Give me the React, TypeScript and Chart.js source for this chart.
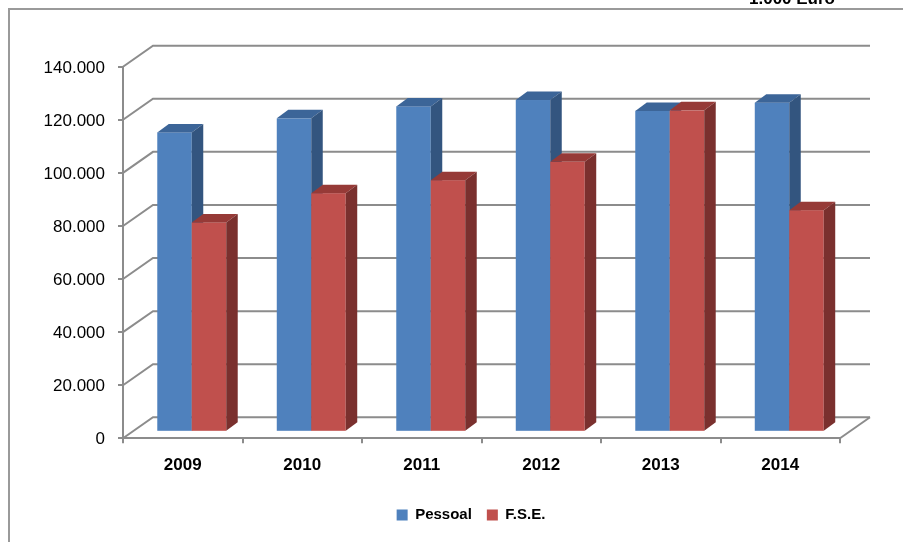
import React, { useEffect, useRef } from "react";
import { Chart, registerables } from "chart.js";

Chart.register(...registerables);

// ---- data ----
const categories = ["2009", "2010", "2011", "2012", "2013", "2014"];
const pessoal = [112800, 118100, 122600, 125000, 120900, 124000];
const fse = [78900, 89900, 94800, 101700, 121100, 83500];
const seriesNames = ["Pessoal", "F.S.E."];
const yMin = 0;
const yMax = 140000;
const yStep = 20000;
const unitLabel = "1.000 Euro";

// ---- style ----
const FONT = "'Liberation Sans', Arial, sans-serif";
const GRID = "#8c8c8c";
const FRONT = ["#4F81BD", "#C0504D"];
const TOP = ["#3C6598", "#963A37"];
const SIDE = ["#33557F", "#7A302E"];

const FLOOR_DX = 30;
const FLOOR_DY = -21;
const BAR_DX = 9;
const BAR_DY = -6.5;
const DEPTH_DX = 11.5;
const DEPTH_DY = -8.5;
const LEGEND_SHIFT = 31;

const fmt = (v: number) =>
  String(Math.round(v)).replace(/\B(?=(\d{3})+(?!\d))/g, ".");

const plugin3d = {
  id: "bars3d",
  afterLayout(chart: any) {
    const lg = chart.legend;
    if (lg) {
      lg.left += LEGEND_SHIFT;
      lg.right += LEGEND_SHIFT;
    }
  },
  beforeDraw(chart: any) {
    const { ctx } = chart;
    ctx.save();
    ctx.fillStyle = "#ffffff";
    ctx.fillRect(0, 0, chart.width, chart.height);
    // frame
    ctx.strokeStyle = "#9a9a9a";
    ctx.lineWidth = 2;
    ctx.beginPath();
    ctx.moveTo(9, chart.height);
    ctx.lineTo(9, 9);
    ctx.lineTo(chart.width, 9);
    ctx.stroke();
    // unit label
    ctx.fillStyle = "#000";
    ctx.font = `bold 17px ${FONT}`;
    ctx.textAlign = "right";
    ctx.textBaseline = "alphabetic";
    ctx.fillText(unitLabel, 835, 4);
    ctx.restore();
  },
  beforeDatasetsDraw(chart: any) {
    const { ctx, chartArea: ca, scales } = chart;
    const y = scales.y;
    ctx.save();
    ctx.strokeStyle = GRID;
    ctx.lineWidth = 2;
    y.ticks.forEach((t: any) => {
      const py = y.getPixelForValue(t.value);
      ctx.beginPath();
      ctx.moveTo(ca.left, py);
      ctx.lineTo(ca.left + FLOOR_DX, py + FLOOR_DY);
      ctx.lineTo(ca.right + FLOOR_DX, py + FLOOR_DY);
      ctx.stroke();
    });
    const by = y.getPixelForValue(0);
    ctx.beginPath();
    ctx.moveTo(ca.right, by);
    ctx.lineTo(ca.right + FLOOR_DX, by + FLOOR_DY);
    ctx.stroke();

    const n = chart.data.labels.length;
    const nd = chart.data.datasets.length;
    for (let i = 0; i < n; i++) {
      for (let d = 0; d < nd; d++) {
        const el = chart.getDatasetMeta(d).data[i];
        const p = el.getProps(["x", "y", "base", "width"], true);
        const L = p.x - p.width / 2 + BAR_DX;
        const R = p.x + p.width / 2 + BAR_DX;
        const T = p.y + BAR_DY;
        const B = p.base + BAR_DY;
        // front
        ctx.fillStyle = FRONT[d];
        ctx.fillRect(L, T, R - L, B - T);
        // top
        ctx.fillStyle = TOP[d];
        ctx.beginPath();
        ctx.moveTo(L, T);
        ctx.lineTo(R, T);
        ctx.lineTo(R + DEPTH_DX, T + DEPTH_DY);
        ctx.lineTo(L + DEPTH_DX, T + DEPTH_DY);
        ctx.closePath();
        ctx.fill();
        // side
        ctx.fillStyle = SIDE[d];
        ctx.beginPath();
        ctx.moveTo(R, T);
        ctx.lineTo(R + DEPTH_DX, T + DEPTH_DY);
        ctx.lineTo(R + DEPTH_DX, B + DEPTH_DY);
        ctx.lineTo(R, B);
        ctx.closePath();
        ctx.fill();
      }
    }
    ctx.restore();
    return false;
  },
};

export default function App() {
  const ref = useRef<HTMLCanvasElement>(null);
  useEffect(() => {
    if (!ref.current) return;
    const chart = new Chart(ref.current, {
      type: "bar",
      data: {
        labels: categories,
        datasets: [
          {
            label: seriesNames[0],
            data: pessoal,
            backgroundColor: FRONT[0],
            borderWidth: 0,
            categoryPercentage: 0.577,
            barPercentage: 1,
          },
          {
            label: seriesNames[1],
            data: fse,
            backgroundColor: FRONT[1],
            borderWidth: 0,
            categoryPercentage: 0.577,
            barPercentage: 1,
          },
        ],
      },
      options: {
        responsive: false,
        animation: false,
        layout: { padding: { left: 40, right: 63, top: 66.7, bottom: 9.5 } },
        plugins: {
          legend: {
            position: "bottom",
            labels: {
              font: { family: FONT, size: 15, weight: "bold" },
              color: "#000",
              boxWidth: 11,
              boxHeight: 11,
              padding: 15,
            },
          },
          tooltip: { enabled: false },
          title: { display: false },
        },
        scales: {
          x: {
            grid: {
              drawOnChartArea: false,
              drawTicks: true,
              tickLength: 5,
              color: GRID,
              lineWidth: 2,
              offset: true,
            },
            border: { display: true, color: GRID, width: 2 },
            ticks: {
              font: { family: FONT, size: 17, weight: "bold" },
              color: "#000",
              padding: 12,
              maxRotation: 0,
            },
            afterFit: (s: any) => {
              s.height = 54.2;
            },
          },
          y: {
            min: yMin,
            max: yMax,
            ticks: {
              stepSize: yStep,
              callback: (v: any) => fmt(Number(v)),
              font: { family: FONT, size: 17 },
              color: "#000",
              padding: 13,
              labelOffset: 1.5,
            },
            grid: {
              drawOnChartArea: false,
              drawTicks: true,
              tickLength: 5,
              color: GRID,
              lineWidth: 2,
            },
            border: { display: true, color: GRID, width: 2 },
            afterFit: (s: any) => {
              s.width = 83;
            },
          },
        },
      } as any,
      plugins: [plugin3d],
    });
    return () => chart.destroy();
  }, []);
  return (
    <div style={{ position: "fixed", left: 0, top: 0, width: 903, height: 542 }}>
      <canvas ref={ref} width={903} height={542} style={{ display: "block" }} />
    </div>
  );
}
